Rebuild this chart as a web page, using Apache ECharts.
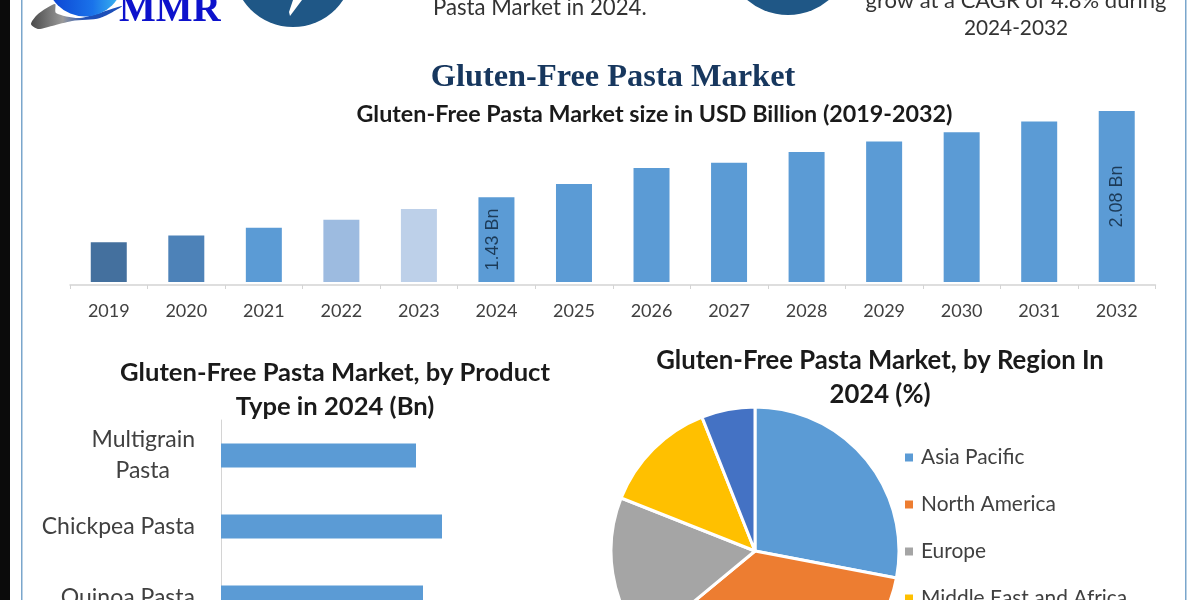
<!DOCTYPE html>
<html>
<head>
<meta charset="utf-8">
<title>Gluten-Free Pasta Market</title>
<script src="https://cdn.jsdelivr.net/npm/echarts@6/dist/echarts.min.js"></script>
<style>
  html, body { margin: 0; padding: 0; background: #fff; }
  #chart { width: 1200px; height: 600px; }
</style>
</head>
<body>
<div id="chart"></div>
<script>
// Market size by year, USD billion
const years = ['2019','2020','2021','2022','2023','2024','2025','2026','2027','2028','2029','2030','2031','2032'];
const marketSize = [1.09,1.14,1.20,1.26,1.34,1.43,1.53,1.65,1.69,1.77,1.85,1.92,2.00,2.08];
const yearColors = ['#44709e','#4d82b8','#5b9bd5','#9dbbe0','#bdd0e9','#5b9bd5','#5b9bd5','#5b9bd5','#5b9bd5','#5b9bd5','#5b9bd5','#5b9bd5','#5b9bd5','#5b9bd5'];
const labelledYears = ['2024','2032'];

// Product types, 2024, USD billion
const productTypes = ['Multigrain\nPasta','Chickpea Pasta','Quinoa Pasta'];
const productValues = [0.39,0.442,0.404];

// Regional share, 2024, percent
const regions = ['Asia Pacific','North America','Europe','Middle East and Africa','South America'];
const regionShares = [28,36,17,13,6];
const regionColors = ['#5b9bd5','#ed7d31','#a5a5a5','#ffc000','#4472c4'];

const SANS = 'Lato, "Open Sans", sans-serif';
const TEXT_MID = '#404040';

const chart = echarts.init(document.getElementById('chart'), null, { renderer: 'canvas' });

function panelTitle(text, x, y, size) {
  return {
    text, left: x, top: y, textAlign: 'center', padding: 0,
    textStyle: { fontFamily: SANS, fontWeight: 'bold', fontSize: size, lineHeight: 34, color: '#1a1a1a' }
  };
}

function headerText(text, x, y, align, size) {
  return {
    type: 'text', x, y, silent: true,
    style: { text, fontFamily: SANS, fontSize: size, fill: '#333333', align: align, verticalAlign: 'middle' }
  };
}

chart.setOption({
  animation: false,
  backgroundColor: '#ffffff',
  title: [
    {
      text: 'Gluten-Free Pasta Market', left: 613, top: 62, textAlign: 'center', padding: 0,
      textStyle: { fontFamily: '"Liberation Serif", serif', fontWeight: 'bold', fontSize: 32.4, color: '#17375e' }
    },
    panelTitle('Gluten-Free Pasta Market size in USD Billion (2019-2032)', 654.5, 97, 23.3),
    panelTitle('Gluten-Free Pasta Market, by Product\nType in 2024 (Bn)', 335, 356, 25.6),
    panelTitle('Gluten-Free Pasta Market, by Region In\n2024 (%)', 880, 344, 25.7)
  ],
  legend: {
    orient: 'vertical',
    left: 903, top: 447, height: 300, padding: 0,
    icon: 'rect', itemWidth: 10, itemHeight: 10, itemGap: 26,
    data: regions,
    textStyle: { fontFamily: SANS, fontSize: 20.9, color: TEXT_MID, padding: [0, 0, 0, 2] }
  },
  grid: [
    { left: 70, width: 1085.5, top: 111, height: 171, outerBoundsMode: 'none' },
    { left: 221, width: 250, top: 420, height: 213, outerBoundsMode: 'none' }
  ],
  xAxis: [
    {
      gridIndex: 0, type: 'category', data: years, offset: 3,
      axisLine: { lineStyle: { color: '#d4d4d4', width: 1.5 } },
      axisTick: { show: true, length: 4, alignWithLabel: false, lineStyle: { color: '#d4d4d4' } },
      axisLabel: { fontFamily: SANS, fontSize: 18, color: TEXT_MID, margin: 17 }
    },
    { gridIndex: 1, type: 'value', min: 0, max: 0.5, show: false }
  ],
  yAxis: [
    { gridIndex: 0, type: 'value', min: 0.79, max: 2.08, show: false },
    {
      gridIndex: 1, type: 'category', inverse: true, data: productTypes,
      axisLine: { lineStyle: { color: '#d4d4d4', width: 1 } },
      axisTick: { show: false },
      axisLabel: {
        margin: 26,
        formatter: function (value) {
          const parts = value.split('\n');
          return parts.length > 1
            ? '{head|' + parts[0] + '}\n{tail|' + parts[1] + '}'
            : '{head|' + value + '}';
        },
        rich: {
          head: { fontFamily: SANS, fontSize: 23, lineHeight: 31, color: TEXT_MID },
          tail: { fontFamily: SANS, fontSize: 23, lineHeight: 31, color: TEXT_MID, padding: [0, 25, 0, 0] }
        }
      }
    }
  ],
  series: [
    {
      type: 'bar', xAxisIndex: 0, yAxisIndex: 0, barWidth: 36,
      data: marketSize.map(function (v, i) {
        const item = { value: v, itemStyle: { color: yearColors[i] } };
        if (labelledYears.includes(years[i])) {
          item.label = {
            show: true, position: 'inside', rotate: 90,
            offset: years[i] === '2024' ? [0, -3] : [0, 0],
            formatter: v.toFixed(2) + ' Bn',
            fontFamily: '"Liberation Sans", sans-serif', fontSize: 18, color: '#1c3a57'
          };
        }
        return item;
      })
    },
    {
      type: 'bar', xAxisIndex: 1, yAxisIndex: 1, barWidth: 24,
      itemStyle: { color: '#5b9bd5' },
      data: productValues
    },
    {
      type: 'pie', center: [755, 551], radius: [0, 144], startAngle: 90, clockwise: true,
      label: { show: false }, labelLine: { show: false },
      itemStyle: { borderColor: '#ffffff', borderWidth: 3 },
      data: regions.map(function (name, i) {
        return { name, value: regionShares[i], itemStyle: { color: regionColors[i] } };
      })
    }
  ],
  graphic: [
    // page frame
    { type: 'rect', shape: { x: 0, y: 0, width: 10, height: 600 }, style: { fill: '#0b0b0b' }, silent: true },
    { type: 'rect', shape: { x: 21, y: 0, width: 1.5, height: 600 }, style: { fill: '#7aa6cc' }, silent: true },
    { type: 'rect', shape: { x: 1185, y: 0, width: 1.5, height: 600 }, style: { fill: '#7aa6cc' }, silent: true },
    // logo: swoosh, globe, wordmark
    {
      type: 'polygon', silent: true,
      shape: {
        smooth: 0.25,
        points: [[38, 29], [31, 24], [38, 14], [55, 4], [56, 13], [80, 18], [122, 6], [100, 18], [72, 21], [52, 26]]
      },
      style: { fill: { type: 'linear', x: 0, y: 0, x2: 1, y2: 0, colorStops: [{ offset: 0, color: '#4a4a4a' }, { offset: 0.35, color: '#9a9a9a' }, { offset: 0.6, color: '#1d4fb8' }, { offset: 1, color: '#1d4fb8' }] } }
    },
    {
      type: 'circle', silent: true, shape: { cx: 85, cy: -22, r: 38.5 },
      style: { fill: { type: 'linear', x: 0, y: 0, x2: 1, y2: 0, colorStops: [{ offset: 0, color: '#0a3fd0' }, { offset: 0.6, color: '#1a73ea' }, { offset: 1, color: '#3fc0f0' }] } }
    },
    {
      type: 'text', x: 119, y: 30, silent: true,
      style: { text: 'MMR', fontFamily: '"Liberation Serif", serif', fontWeight: 'bold', fontSize: 39, fill: '#0d12cc', verticalAlign: 'bottom' }
    },
    // header badges
    { type: 'circle', silent: true, shape: { cx: 293, cy: -33, r: 60 }, style: { fill: '#1f5786' } },
    { type: 'polygon', silent: true, shape: { points: [[293, 0], [302, 0], [290, 16], [289, 12]] }, style: { fill: '#ffffff' } },
    { type: 'circle', silent: true, shape: { cx: 788, cy: -48, r: 63 }, style: { fill: '#1f5786' } },
    // header captions
    headerText('Pasta Market in 2024.', 433, 8, 'left', 22.2),
    headerText('grow at a CAGR of 4.8% during', 1016, 1, 'center', 22),
    headerText('2024-2032', 1016, 28, 'center', 20.8)
  ]
});
</script>
</body>
</html>
